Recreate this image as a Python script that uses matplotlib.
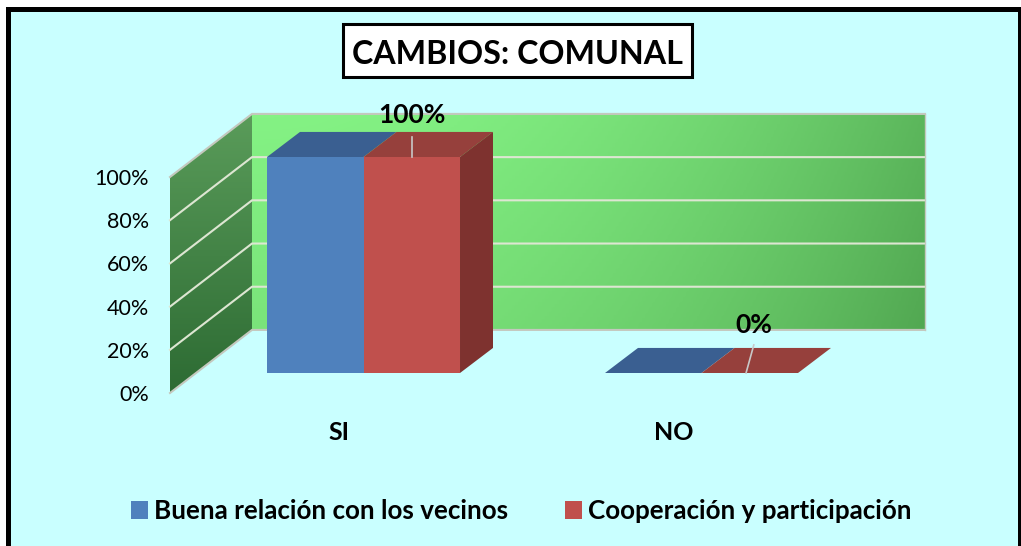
import numpy as np
import matplotlib
matplotlib.use("Agg")
import matplotlib.pyplot as plt
from matplotlib.colors import LinearSegmentedColormap
from matplotlib.patches import Polygon, Rectangle

# chart values
categories = ["SI", "NO"]
series_names = ["Buena relación con los vecinos", "Cooperación y participación"]
buena_relacion = [100, 0]
cooperacion = [100, 0]
data_labels = ["100%", "0%"]
y_ticks = [0, 20, 40, 60, 80, 100]
y_tick_labels = ["0%", "20%", "40%", "60%", "80%", "100%"]

W, H = 1021, 546
BAR_W = 0.2855
# oblique projection of the 3D chart, in data units
WALL_DX, WALL_DY = 0.2426, 29.2
BAR_DX, BAR_DY = 0.0976, 11.6
FLOOR = 9.26
X_LEFT, X_RIGHT = -0.5725, 1.4186

BLUE, BLUE_TOP = "#4F81BD", "#3A5F91"
RED, RED_TOP, RED_SIDE = "#C0504D", "#96403C", "#7E322F"
GRID = "#DDE6D2"


def gradientFill(ax, pts, cmap, grad):
    xs = [p[0] for p in pts]
    ys = [p[1] for p in pts]
    im = ax.imshow(grad, cmap=cmap, vmin=0, vmax=1, aspect="auto", zorder=1,
                   extent=(min(xs), max(xs), min(ys), max(ys)), origin="upper")
    im.set_clip_box(ax.figure.bbox)
    im.set_clip_path(Polygon(pts, closed=True, transform=ax.transData))


def main():
    fig = plt.figure(figsize=(W / 100, H / 100), dpi=100, facecolor="white")
    plt.rcParams["font.family"] = ["Lato", "DejaVu Sans"]

    # page frame
    fig.add_artist(Rectangle((7.5 / W, -0.02), (W - 9) / W, 1.02 - 9.5 / H,
                             transform=fig.transFigure, facecolor="#C9FFFF",
                             edgecolor="black", linewidth=3.6, zorder=-2))

    ax = fig.add_axes([170 / W, 1 - 393 / H, 673 / W, 216 / H])
    ax.set_facecolor("none")
    for sp in ax.spines.values():
        sp.set_visible(False)

    ax.set_xlim(X_LEFT, X_RIGHT)
    ax.set_ylim(0, 100)

    # walls
    back = [(X_LEFT + WALL_DX, WALL_DY), (X_RIGHT + WALL_DX, WALL_DY),
            (X_RIGHT + WALL_DX, 100 + WALL_DY), (X_LEFT + WALL_DX, 100 + WALL_DY)]
    side = [(X_LEFT, 0), (X_LEFT + WALL_DX, WALL_DY),
            (X_LEFT + WALL_DX, 100 + WALL_DY), (X_LEFT, 100)]
    u, v = np.meshgrid(np.linspace(0, 1, 200), np.linspace(0, 1, 200))
    back_cmap = LinearSegmentedColormap.from_list("back", ["#84F284", "#52A852"])
    side_cmap = LinearSegmentedColormap.from_list("side", ["#5A9C5A", "#2D6B33"])
    gradientFill(ax, back, back_cmap, 0.8 * u ** 2 + 0.2 * v)
    gradientFill(ax, side, side_cmap, v)

    # gridlines over both walls
    for t in y_ticks:
        col = "#C4C8BE" if t in (0, 100) else GRID
        ax.plot([X_LEFT, X_LEFT + WALL_DX, X_RIGHT + WALL_DX],
                [t, t + WALL_DY, t + WALL_DY], color=col, lw=1.5, zorder=2,
                clip_on=False, solid_joinstyle="miter")
    ax.plot([X_RIGHT + WALL_DX] * 2, [WALL_DY, 100 + WALL_DY], color="#C4C8BE",
            lw=1, zorder=2, clip_on=False)

    # bars, front faces through bar(), depth faces derived from the same values
    x = np.arange(len(categories))
    xa = x - BAR_W / 2
    xb = x + BAR_W / 2
    ba = ax.bar(xa, buena_relacion, BAR_W, bottom=FLOOR, color=BLUE, zorder=4,
                clip_on=False, label=series_names[0])
    bb = ax.bar(xb, cooperacion, BAR_W, bottom=FLOOR, color=RED, zorder=4,
                clip_on=False, label=series_names[1])

    for i in range(len(categories)):
        top_a = FLOOR + buena_relacion[i]
        top_b = FLOOR + cooperacion[i]
        l = xa[i] - BAR_W / 2
        m = xa[i] + BAR_W / 2
        r = xb[i] + BAR_W / 2
        ax.add_patch(Polygon([(l, top_a), (m, top_a), (m + BAR_DX, top_a + BAR_DY),
                              (l + BAR_DX, top_a + BAR_DY)], color=BLUE_TOP, lw=0,
                             zorder=3, clip_on=False))
        ax.add_patch(Polygon([(m, top_b), (r, top_b), (r + BAR_DX, top_b + BAR_DY),
                              (m + BAR_DX, top_b + BAR_DY)], color=RED_TOP, lw=0,
                             zorder=3.5, clip_on=False))
        ax.add_patch(Polygon([(r, FLOOR), (r + BAR_DX, FLOOR + BAR_DY),
                              (r + BAR_DX, top_b + BAR_DY), (r, top_b)], color=RED_SIDE,
                             lw=0, zorder=3.5, clip_on=False))

    # data labels with leader lines
    ax.plot([xb[0], xb[0]], [FLOOR + cooperacion[0], FLOOR + cooperacion[0] + 9.3],
            color="#C8C8C8", lw=1.2, zorder=5, clip_on=False)
    ax.plot([xb[1] - 0.011, xb[1] + 0.012], [FLOOR + cooperacion[1], FLOOR + cooperacion[1] + 13],
            color="#C8C8C8", lw=1.2, zorder=5, clip_on=False)
    ax.text(xb[0], FLOOR + cooperacion[0] + 19.5, data_labels[0], ha="center", va="center",
            fontsize=19, fontweight="bold", zorder=6, clip_on=False)
    ax.text(xb[1] + 0.012, FLOOR + cooperacion[1] + 22, data_labels[1], ha="center", va="center",
            fontsize=19, fontweight="bold", zorder=6, clip_on=False)

    ax.set_xlim(X_LEFT, X_RIGHT)
    ax.set_ylim(0, 100)
    ax.set_yticks(y_ticks)
    ax.set_yticklabels(y_tick_labels, fontsize=15.5)
    ax.tick_params(axis="y", length=0, pad=15)
    # category labels sit left of the bars in the original
    ax.set_xticks(x - np.array([0.0725, 0.0815]))
    ax.set_xticklabels(categories, fontsize=18, fontweight="bold")
    ax.tick_params(axis="x", length=0, pad=20)

    # title box
    fig.text(517 / W, 1 - 55 / H, "CAMBIOS: COMUNAL", ha="center", va="center",
             fontsize=23.2, fontweight="bold", color="black")
    fig.add_artist(Rectangle((343 / W, 1 - 77 / H), 349 / W, 53 / H, transform=fig.transFigure,
                             facecolor="white", edgecolor="black", linewidth=2.2, zorder=-1))

    ax.legend([ba, bb], series_names, loc="center", ncol=2, frameon=False,
              bbox_to_anchor=(521.5 / W, 1 - 511 / H), bbox_transform=fig.transFigure,
              prop={"weight": "bold", "size": 18.7}, handlelength=0.65,
              handleheight=0.65, handletextpad=0.23, columnspacing=2.2)

    fig.savefig("out.png", dpi=100, facecolor="white")


if __name__ == '__main__':
    main()
